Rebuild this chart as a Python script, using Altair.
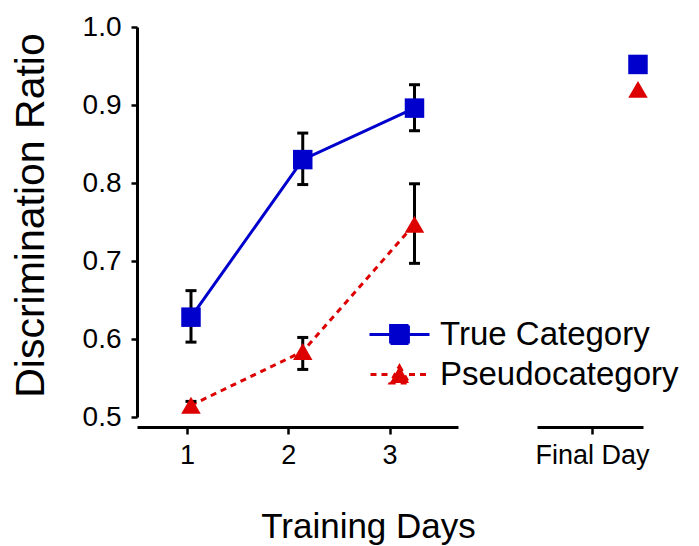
import altair as alt
import pandas as pd

# ---------------- data ----------------
series_names = ["True Category", "Pseudocategory"]
days = [1, 2, 3]
true_mean = [0.628, 0.830, 0.896]
true_lo = [0.596, 0.798, 0.867]
true_hi = [0.662, 0.864, 0.926]
pseudo_mean = [0.515, 0.584, 0.747]
pseudo_lo = [0.510, 0.561, 0.697]
pseudo_hi = [0.520, 0.602, 0.799]
final_day = [5]
final_true = [0.952]
final_pseudo = [0.920]
y_ticks = [0.5, 0.6, 0.7, 0.8, 0.9, 1.0]
x_tick_days = [1, 2, 3]
x_tick_final = [5]
final_label = "Final Day"

BLUE = "#0000cc"
RED = "#dd0000"
FONT = "Liberation Sans"

true_df = pd.DataFrame({"day": days, "mean": true_mean, "lo": true_lo, "hi": true_hi})
pseudo_df = pd.DataFrame({"day": days, "mean": pseudo_mean, "lo": pseudo_lo, "hi": pseudo_hi})
err_df = pd.concat([true_df, pseudo_df], ignore_index=True)
true_pts = pd.DataFrame({"day": days + final_day, "mean": true_mean + final_true})
pseudo_pts = pd.DataFrame({"day": days + final_day, "mean": pseudo_mean + final_pseudo})
legend_df = pd.DataFrame({"series": series_names, "day": [1, 1], "mean": [0.6, 0.6]})
axis_a_df = pd.DataFrame({"tick": x_tick_days})
axis_b_df = pd.DataFrame({"tick": x_tick_final})

yscale = alt.Scale(domain=[0.5, 1.0], nice=False, zero=False)
xdata = alt.X("day:Q", scale=alt.Scale(domain=[0.5168, 5.546], nice=False, zero=False), axis=None)

y_axis = alt.Axis(
    values=y_ticks, format=".1f", title="Discrimination Ratio", orient="left",
    titleFontSize=41, titleFontWeight="normal", titleColor="black",
    titleX=-94, titleY=188, titleBaseline="alphabetic", titleAlign="center", titleAngle=270,
    labelFontSize=28, labelColor="black", labelPadding=10,
    tickSize=6, tickWidth=2.5, tickColor="black",
    domainWidth=3, domainColor="black", grid=False,
)


def yfield(name):
    return alt.Y(f"{name}:Q", scale=yscale, axis=y_axis)


line_true = alt.Chart(true_df).mark_line(color=BLUE, strokeWidth=3).encode(
    x=xdata, y=yfield("mean"))
line_pseudo = alt.Chart(pseudo_df).mark_line(color=RED, strokeWidth=3, strokeDash=[6, 5]).encode(
    x=xdata, y=yfield("mean"))

err_rule = alt.Chart(err_df).mark_rule(color="black", strokeWidth=3).encode(
    x=xdata, y=yfield("lo"), y2="hi:Q")
cap_lo = alt.Chart(err_df).mark_point(shape="stroke", size=121, strokeWidth=3, color="black", opacity=1).encode(
    x=xdata, y=yfield("lo"))
cap_hi = alt.Chart(err_df).mark_point(shape="stroke", size=121, strokeWidth=3, color="black", opacity=1).encode(
    x=xdata, y=yfield("hi"))

pts_true = alt.Chart(true_pts).mark_point(shape="square", filled=True, size=380, color=BLUE, opacity=1).encode(
    x=xdata, y=yfield("mean"))
pts_pseudo = alt.Chart(pseudo_pts).mark_point(shape="triangle-up", filled=True, size=380, color=RED, opacity=1).encode(
    x=xdata, y=yfield("mean"))

# legend: line + marker symbols
sq_path = "M-3.0,0H-0.9M0.9,0H3.0M-0.9,-0.9H0.9V0.9H-0.9Z"
tri_path = "M-2.9,0H-0.95M0.95,0H2.9M0,-0.86L0.95,0.86L-0.95,0.86Z"
legend_layer = alt.Chart(legend_df).mark_point(filled=True, opacity=0, strokeWidth=2.5).encode(
    x=xdata, y=yfield("mean"),
    shape=alt.Shape("series:N", scale=alt.Scale(domain=series_names, range=[sq_path, tri_path]),
                    legend=alt.Legend(title=None, orient="none", legendX=246, legendY=291,
                                      symbolSize=400, symbolStrokeWidth=2.8, symbolOpacity=1,
                                      labelFontSize=33, labelColor="black", labelOffset=24,
                                      labelLimit=400, rowPadding=6, padding=0, labelFont=FONT)),
    fill=alt.Fill("series:N", scale=alt.Scale(domain=series_names, range=[BLUE, RED])),
    stroke=alt.Stroke("series:N", scale=alt.Scale(domain=series_names, range=[BLUE, RED])),
    strokeDash=alt.StrokeDash("series:N", scale=alt.Scale(domain=series_names, range=[[1, 0], [6, 5]])),
)

axis_common = dict(orient="bottom", offset=10, tickSize=7, tickWidth=2.5, tickColor="black",
                   domainWidth=3, domainColor="black", labelFontSize=27, labelColor="black",
                   labelPadding=8, grid=False)
axis_a = alt.Chart(axis_a_df).mark_point(opacity=0).encode(
    x=alt.X("tick:Q", scale=alt.Scale(domain=[0.5062, 3.6765], range=[0, 321], nice=False, zero=False),
            axis=alt.Axis(values=x_tick_days, format="d", title="Training Days",
                          titleFontSize=35, titleFontWeight="normal", titleColor="black",
                          titleX=231, titleY=110, titleBaseline="alphabetic", titleAlign="center",
                          **axis_common)),
    y=alt.value(0),
)
axis_b = alt.Chart(axis_b_df).mark_point(opacity=0).encode(
    x=alt.X("tick:Q", scale=alt.Scale(domain=[4.4568, 5.5037], range=[400, 506], nice=False, zero=False),
            axis=alt.Axis(values=x_tick_final, labelExpr=f"'{final_label}'", title=None, **axis_common)),
    y=alt.value(0),
)

chart = alt.layer(
    line_true, line_pseudo, err_rule, cap_lo, cap_hi, pts_true, pts_pseudo,
    legend_layer, axis_a, axis_b,
).resolve_scale(x="independent").properties(
    width=562, height=390,
    autosize=alt.AutoSizeParams(type="none"),
    padding={"left": 137, "top": 27, "right": 0, "bottom": 129},
    background="white",
).configure(font=FONT, view=alt.ViewConfig(stroke=None))

chart.save("out.html", embed_options={"renderer": "svg", "actions": False})
